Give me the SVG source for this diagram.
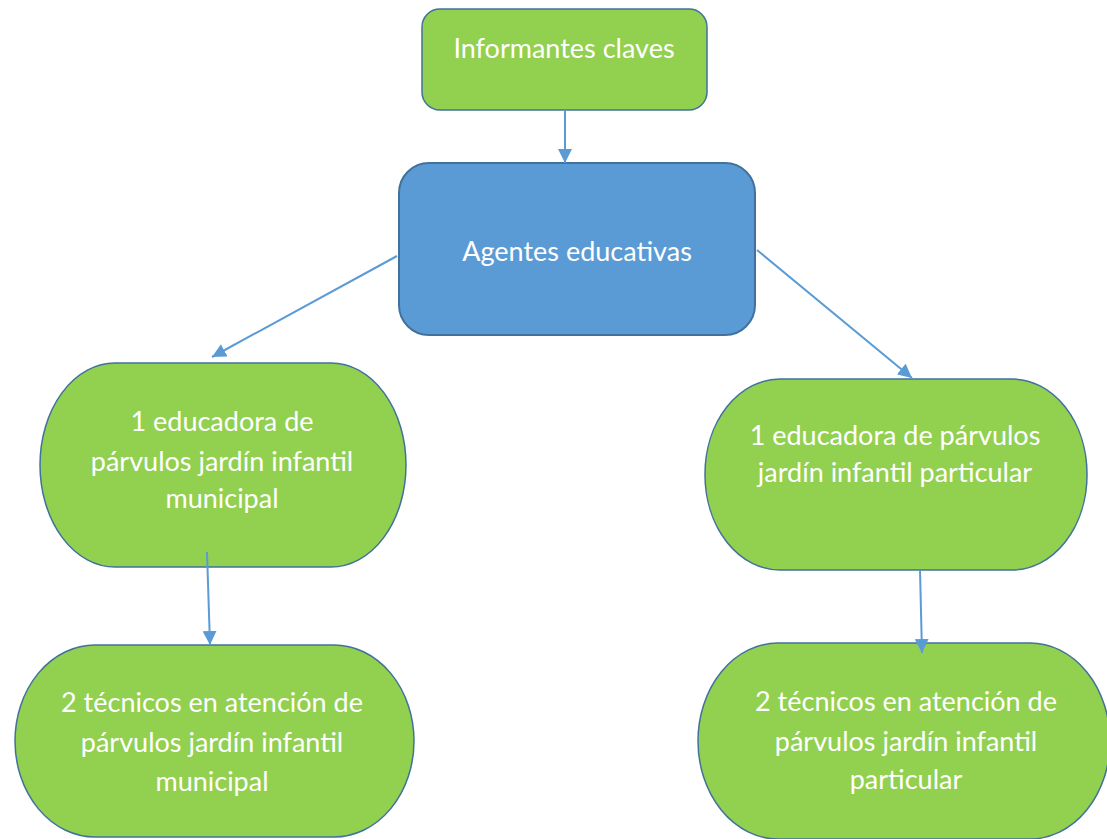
<svg xmlns="http://www.w3.org/2000/svg" width="1107" height="839" viewBox="0 0 1107 839">
<defs>
<style>
.g{fill:#92D050;stroke:#41719C;stroke-width:1.5}
.b{fill:#5B9BD5;stroke:#41719C;stroke-width:2}
.t{font-family:Lato,"Open Sans",sans-serif;font-size:27px;fill:#FFFFFF;text-anchor:middle}
.c{stroke:#5B9BD5;stroke-width:2;fill:none;marker-end:url(#ah)}
</style>
<marker id="ah" viewBox="0 0 10 10" refX="10" refY="5" markerWidth="14" markerHeight="14" orient="auto" markerUnits="userSpaceOnUse">
<path d="M0,0 L10,5 L0,10 z" fill="#5B9BD5"/>
</marker>
</defs>
<rect width="1107" height="839" fill="#FFFFFF"/>
<g id="n-informantes">
<rect class="g" x="422" y="9" width="285" height="101" rx="18"/>
<text class="t" x="564" y="58">Informantes claves</text>
</g>
<g id="n-agentes">
<rect class="b" x="399" y="163" width="356" height="172" rx="30"/>
<text class="t" x="577" y="261">Agentes educativas</text>
</g>
<g id="n-edu-mun">
<rect class="g" x="40" y="363" width="366" height="204" rx="75" ry="102"/>
<text class="t" x="222" y="431">1 educadora de</text>
<text class="t" x="222" y="471">párvulos jardín infantil</text>
<text class="t" x="222" y="508">municipal</text>
</g>
<g id="n-edu-par">
<rect class="g" x="705" y="379" width="382" height="191" rx="75" ry="95"/>
<text class="t" x="895" y="445">1 educadora de párvulos</text>
<text class="t" x="895" y="482">jardín infantil particular</text>
</g>
<g id="n-tec-mun">
<rect class="g" x="15" y="645" width="399" height="192" rx="80" ry="96"/>
<text class="t" x="212" y="712">2 técnicos en atención de</text>
<text class="t" x="212" y="752">párvulos jardín infantil</text>
<text class="t" x="212" y="791">municipal</text>
</g>
<g id="n-tec-par">
<rect class="g" x="698" y="643" width="412" height="196" rx="80" ry="98"/>
<text class="t" x="906" y="711">2 técnicos en atención de</text>
<text class="t" x="906" y="751">párvulos jardín infantil</text>
<text class="t" x="906" y="789">particular</text>
</g>
<g id="connectors">
<line class="c" x1="565" y1="110" x2="565" y2="163"/>
<line class="c" x1="397" y1="256" x2="212" y2="357"/>
<line class="c" x1="757" y1="250" x2="912" y2="378"/>
<line class="c" x1="207" y1="552" x2="210" y2="645"/>
<line class="c" x1="920" y1="570" x2="922" y2="653"/>
</g>
</svg>
